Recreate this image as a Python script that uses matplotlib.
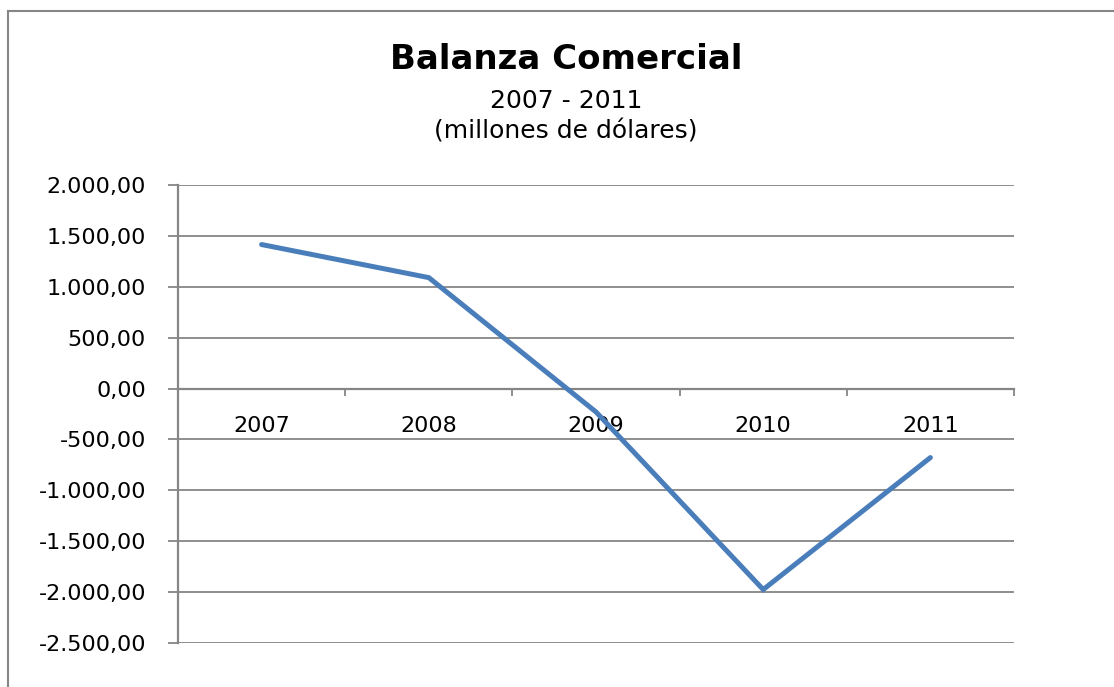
import numpy as np
import matplotlib.pyplot as plt
from matplotlib.lines import Line2D
from matplotlib.ticker import FuncFormatter, FixedLocator

years = ['2007', '2008', '2009', '2010', '2011']
balanza = [1415, 1090, -230, -1975, -678]
y_ticks = [-2500, -2000, -1500, -1000, -500, 0, 500, 1000, 1500, 2000]

plt.rcParams['font.family'] = ['DejaVu Sans']

grey = '#868686'


def fmt_es(v, pos=None):
    s = f'{v:,.2f}'
    return s.replace(',', 'X').replace('.', ',').replace('X', '.')


fig = plt.figure(figsize=(11.14, 6.87), dpi=100)
ax = fig.add_axes([178 / 1114, 1 - 643 / 687, (1014 - 178) / 1114, (643 - 185) / 687])

# outer chart border: only top and left edges are inside the picture
bx, by = 8 / 1114, 1 - 11 / 687
fig.add_artist(Line2D([bx, 1.0], [by, by], transform=fig.transFigure,
                      color=grey, linewidth=1.5))
fig.add_artist(Line2D([bx, bx], [0.0, by], transform=fig.transFigure,
                      color=grey, linewidth=1.5))

x = np.arange(len(years))
ax.plot(x, balanza, color='#4A7EBB', linewidth=3.6, solid_capstyle='round',
        solid_joinstyle='miter', zorder=3)

ax.set_xlim(-0.5, len(years) - 0.5)
ax.set_ylim(y_ticks[0], y_ticks[-1])
ax.set_yticks(y_ticks)
ax.yaxis.set_major_formatter(FuncFormatter(fmt_es))
ax.grid(axis='y', color=grey, linewidth=1.3)
ax.set_axisbelow(True)

for side in ['top', 'right']:
    ax.spines[side].set_visible(False)
ax.spines['left'].set_color(grey)
ax.spines['left'].set_linewidth(1.6)
ax.spines['bottom'].set_position(('data', 0))
ax.spines['bottom'].set_color(grey)
ax.spines['bottom'].set_linewidth(1.6)

ax.tick_params(axis='y', length=7, width=1.3, color=grey, pad=16,
               labelsize=16, labelcolor='black')
ax.set_xticks(x)
ax.set_xticklabels(years)
ax.tick_params(axis='x', which='major', length=0, pad=20, labelsize=16)
ax.xaxis.set_minor_locator(FixedLocator(np.arange(-0.5, len(years), 1.0)))
ax.tick_params(axis='x', which='minor', length=5, width=1.3, color=grey,
               direction='out')

cx = 566 / 1114
fig.text(cx, 1 - 69 / 687, 'Balanza Comercial', ha='center', va='baseline',
         fontsize=24.5, fontweight='bold')
fig.text(cx, 1 - 108 / 687, '2007 - 2011', ha='center', va='baseline', fontsize=18)
fig.text(cx, 1 - 138 / 687, '(millones de dólares)', ha='center', va='baseline',
         fontsize=18)

fig.savefig('out.png', dpi=100)
